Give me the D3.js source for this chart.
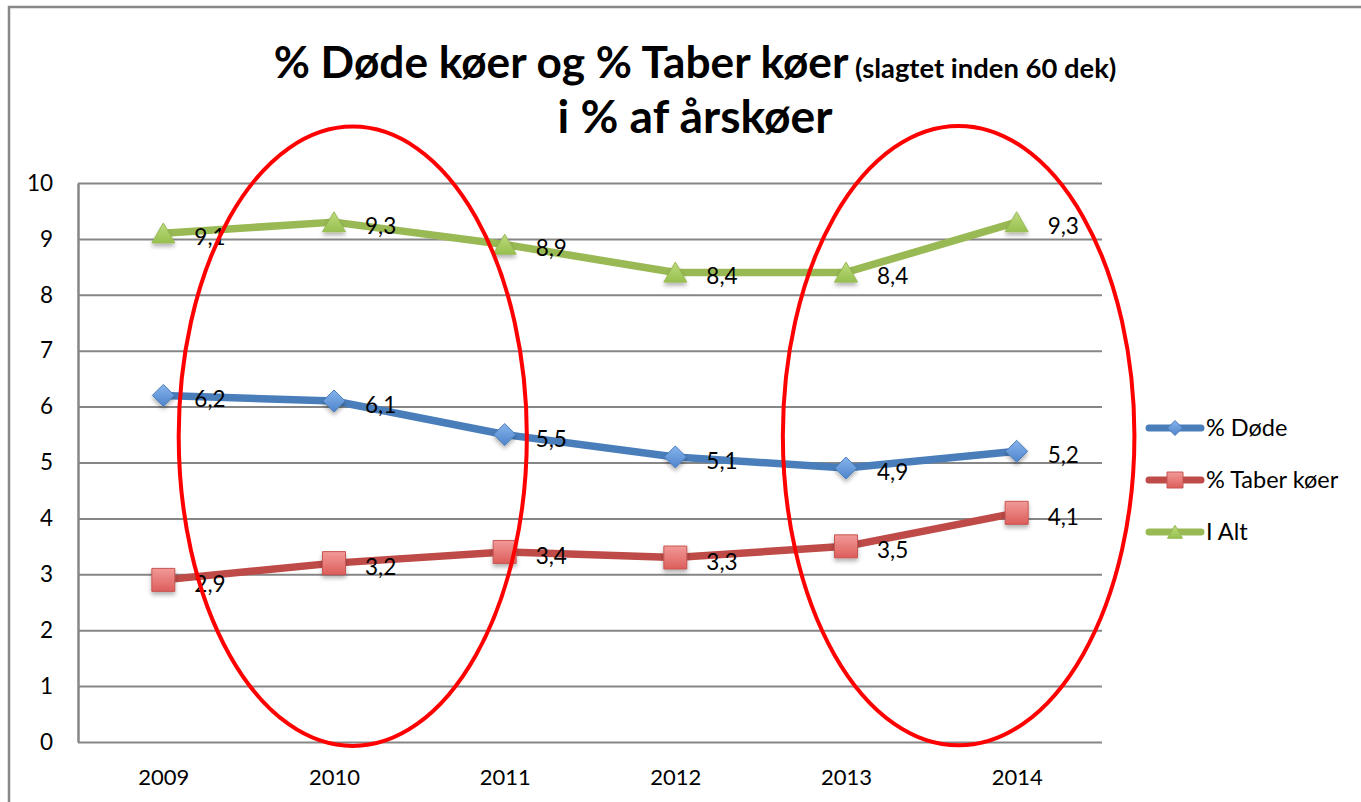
<!DOCTYPE html>
<html>
<head>
<meta charset="utf-8">
<script src="https://cdn.jsdelivr.net/npm/d3@7"></script>
<style>
  html, body { margin: 0; padding: 0; background: #fff; }
  svg { display: block; }
  text { font-family: Lato, "Open Sans", "DejaVu Sans", sans-serif; fill: #000; }
</style>
</head>
<body>
<svg id="chart" width="1361" height="802"></svg>
<script>
// ---------- data ----------
const years = ["2009", "2010", "2011", "2012", "2013", "2014"];
const seriesNames = ["% Døde", "% Taber køer", "I Alt"];
const doede = [6.2, 6.1, 5.5, 5.1, 4.9, 5.2];
const taber = [2.9, 3.2, 3.4, 3.3, 3.5, 4.1];
const iAlt  = [9.1, 9.3, 8.9, 8.4, 8.4, 9.3];
const yTicks = [0, 1, 2, 3, 4, 5, 6, 7, 8, 9, 10];
const titleMain = "% Døde køer og % Taber køer";
const titleSmall = "(slagtet inden 60 dek)";
const titleLine2 = "i % af årskøer";
// annotation ellipses: centre as category index / value, radii in categories / value units
const ellipseIdx = [1.11, 4.66];
const ellipseVal = [5.47, 5.48];
const ellipseRIdx = [1.02, 1.03];
const ellipseRVal = [5.54, 5.54];

// ---------- layout ----------
const W = 1361, H = 802;
const plot = { left: 78, right: 1102, top: 183, bottom: 742 };
const colors = ["#4A7EBB", "#BE4B48", "#98B954"];
const markerTypes = ["diamond", "square", "triangle"];
const FONT = "Lato, 'Open Sans', sans-serif";

const svg = d3.select("#chart");
const defs = svg.append("defs");

// gradients for markers
const grads = [
  { id: "gD", top: "#86B4EC", bot: "#4F84CC", stroke: "#4A7EBB" },
  { id: "gS", top: "#F29A98", bot: "#DC5E5B", stroke: "#C65552" },
  { id: "gT", top: "#BEDB7E", bot: "#96C04E", stroke: "#98B954" }
];
grads.forEach(g => {
  const lg = defs.append("linearGradient").attr("id", g.id)
    .attr("x1", 0).attr("y1", 0).attr("x2", 0).attr("y2", 1);
  lg.append("stop").attr("offset", "0%").attr("stop-color", g.top);
  lg.append("stop").attr("offset", "100%").attr("stop-color", g.bot);
});
const f = defs.append("filter").attr("id", "shadow")
  .attr("x", "-50%").attr("y", "-50%").attr("width", "200%").attr("height", "200%");
f.append("feDropShadow").attr("dx", 0).attr("dy", 3).attr("stdDeviation", 2)
  .attr("flood-color", "#000").attr("flood-opacity", 0.3);

// frame
svg.append("rect").attr("x", 9).attr("y", 7).attr("width", W + 20).attr("height", H + 20)
  .attr("fill", "none").attr("stroke", "#888").attr("stroke-width", 2.5);

// ---------- scales ----------
const x = d3.scalePoint().domain(years).range([plot.left, plot.right]).padding(0.5);
const xIdx = d3.scaleLinear().domain([0, years.length - 1])
  .range([x(years[0]), x(years[years.length - 1])]);
const y = d3.scaleLinear().domain([0, 10]).range([plot.bottom, plot.top]);

// ---------- axes ----------
const yAxis = svg.append("g").attr("transform", `translate(${plot.left},0)`)
  .call(d3.axisLeft(y).tickValues(yTicks).tickSize(-(plot.right - plot.left))
    .tickSizeOuter(0).tickPadding(25).tickFormat(d3.format("d")));
yAxis.selectAll(".tick line").attr("stroke", "#868686").attr("stroke-width", 2);
yAxis.select(".domain").attr("stroke", "#868686").attr("stroke-width", 2.5);
yAxis.selectAll("text").attr("font-size", 22.5).attr("fill", "#000")
  .style("font-family", FONT);

const xAxis = svg.append("g").attr("transform", `translate(0,${plot.bottom})`)
  .call(d3.axisBottom(x).tickSize(0).tickPadding(27));
xAxis.select(".domain").remove();
xAxis.selectAll("text").attr("font-size", 22).attr("fill", "#000")
  .style("font-family", FONT);

// ---------- series ----------
const series = [doede, taber, iAlt].map((vals, i) => ({
  name: seriesNames[i], color: colors[i], type: markerTypes[i], grad: grads[i],
  values: years.map((yr, j) => ({ year: yr, v: vals[j] }))
}));

const line = d3.line().x(d => x(d.year)).y(d => y(d.v));

function markerPath(type, s) {
  if (type === "diamond") return `M0,${-s/2}L${s/2},0L0,${s/2}L${-s/2},0Z`;
  if (type === "square") return `M${-s/2},${-s/2}H${s/2}V${s/2}H${-s/2}Z`;
  return `M0,${-s*0.45}L${s/2},${s*0.42}L${-s/2},${s*0.42}Z`;
}
const markerSize = { diamond: 22, square: 23, triangle: 23 };

series.forEach(s => {
  svg.append("path").datum(s.values)
    .attr("d", line).attr("fill", "none")
    .attr("stroke", s.color).attr("stroke-width", 7.5)
    .attr("stroke-linejoin", "round").attr("stroke-linecap", "round");
});
series.forEach(s => {
  svg.append("g").selectAll("path").data(s.values).join("path")
    .attr("transform", d => `translate(${x(d.year)},${y(d.v)})`)
    .attr("d", markerPath(s.type, markerSize[s.type]))
    .attr("fill", `url(#${s.grad.id})`)
    .attr("stroke", s.grad.stroke).attr("stroke-width", 1)
    .attr("filter", "url(#shadow)");
});
// data labels
const fmt = v => d3.format(".1f")(v).replace(".", ",");
series.forEach(s => {
  svg.append("g").selectAll("text").data(s.values).join("text")
    .attr("x", d => x(d.year) + 31)
    .attr("y", d => y(d.v) + 12)
    .attr("font-size", 22.5)
    .text(d => fmt(d.v));
});

// ---------- annotation ellipses ----------
ellipseIdx.forEach((ci, i) => {
  const cx = xIdx(ci);
  const cy = y(ellipseVal[i]);
  const rx = xIdx(ci + ellipseRIdx[i]) - cx;
  const ry = cy - y(ellipseVal[i] + ellipseRVal[i]);
  svg.append("ellipse").attr("cx", cx).attr("cy", cy).attr("rx", rx).attr("ry", ry)
    .attr("fill", "none").attr("stroke", "#FF0000").attr("stroke-width", 4);
});

// ---------- legend ----------
const legend = svg.append("g").attr("transform", "translate(1147,428)");
series.forEach((s, i) => {
  const g = legend.append("g").attr("transform", `translate(0,${i * 52})`);
  g.append("line").attr("x1", 2).attr("x2", 54).attr("y1", 0).attr("y2", 0)
    .attr("stroke", s.color).attr("stroke-width", 7).attr("stroke-linecap", "round");
  g.append("path").attr("transform", "translate(28,0)")
    .attr("d", markerPath(s.type, s.type === "square" ? 16 : 15))
    .attr("fill", `url(#${s.grad.id})`).attr("stroke", s.grad.stroke).attr("stroke-width", 1);
  g.append("text").attr("x", 59).attr("y", 0).attr("dy", "0.35em")
    .attr("font-size", 23.5).text(s.name);
});

// ---------- title ----------
const titleCx = 695;
const t1 = svg.append("text").attr("y", 78).attr("font-weight", "bold");
const tMain = t1.append("tspan").attr("font-size", 38).text(titleMain);
const tSmall = t1.append("tspan").attr("font-size", 20).text(" " + titleSmall);
const mainW = tMain.node().getComputedTextLength();
const fs = 38 * 575 / mainW;
tMain.attr("font-size", fs);
const smallW0 = tSmall.node().getComputedTextLength();
tSmall.attr("font-size", 20 * 268 / smallW0);
const totalW = t1.node().getComputedTextLength();
t1.attr("x", titleCx - totalW / 2);

const t2 = svg.append("text").attr("x", titleCx).attr("y", 133).attr("text-anchor", "middle")
  .attr("font-weight", "bold").attr("font-size", fs).text(titleLine2);
const w2 = t2.node().getComputedTextLength();
t2.attr("font-size", fs * 275 / w2);
</script>
</body>
</html>
